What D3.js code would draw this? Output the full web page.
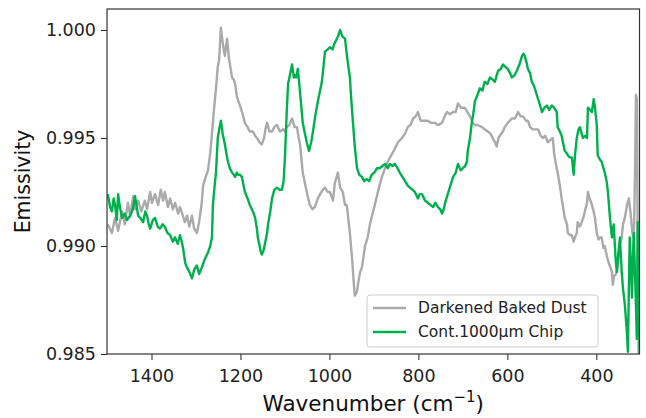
<!DOCTYPE html>
<html>
<head>
<meta charset="utf-8">
<script src="https://cdn.jsdelivr.net/npm/d3@7"></script>
<style>
  body { margin: 0; background: #fff; }
  text { font-family: "DejaVu Sans", sans-serif; }
</style>
</head>
<body>
<div id="chart"></div>
<script>
// series labels
let seriesNames = ['Darkened Baked Dust', 'Cont.1000\u00b5m Chip'];
let seriesColors = ['#aaaaaa', '#00b04f'];

// Darkened Baked Dust: [wavenumber, emissivity]
let dustData = [
  [1498,0.9910],[1489,0.9906],[1482,0.9913],[1475,0.9907],[1466,0.9916],[1460,0.9910],[1453,0.9920],
  [1448,0.9914],[1441,0.9923],[1437,0.9917],[1430,0.9921],[1423,0.9916],[1415,0.9921],[1410,0.9917],
  [1403,0.9925],[1399,0.9920],[1392,0.9924],[1385,0.9919],[1379,0.9926],[1374,0.9921],[1370,0.9925],
  [1363,0.9918],[1358,0.9922],[1352,0.9917],[1347,0.9920],[1340,0.9915],[1336,0.9918],[1331,0.9915],
  [1325,0.9911],[1320,0.9914],[1315,0.9909],[1309,0.9914],[1304,0.9908],[1298,0.9906],[1293,0.9911],
  [1287,0.9920],[1284,0.9928],[1278,0.9932],[1273,0.9935],[1268,0.9943],[1264,0.9952],[1260,0.9962],
  [1255,0.9973],[1251,0.9983],[1248,0.9986],[1244,1.0001],[1241,0.9996],[1237,0.9990],[1235,0.9988],
  [1232,0.9993],[1230,0.9996],[1226,0.9987],[1222,0.9982],[1219,0.9978],[1215,0.9977],[1212,0.9975],
  [1208,0.9969],[1201,0.9965],[1195,0.9961],[1190,0.9957],[1184,0.9955],[1179,0.9953],[1172,0.9953],
  [1167,0.9951],[1163,0.9950],[1157,0.9948],[1152,0.9947],[1147,0.9950],[1143,0.9955],[1140,0.9957],
  [1135,0.9953],[1129,0.9953],[1124,0.9955],[1118,0.9956],[1111,0.9953],[1104,0.9954],[1100,0.9953],
  [1096,0.9955],[1090,0.9956],[1084,0.9959],[1078,0.9955],[1073,0.9955],[1069,0.9950],[1066,0.9947],
  [1060,0.9934],[1051,0.9925],[1044,0.9919],[1038,0.9917],[1033,0.9918],[1026,0.9922],[1021,0.9924],
  [1015,0.9926],[1010,0.9927],[1004,0.9925],[999,0.9925],[992,0.9921],[988,0.9929],[981,0.9934],
  [976,0.9927],[970,0.9925],[965,0.9919],[961,0.9919],[954,0.9906],[949,0.9894],[945,0.9882],
  [943,0.9877],[938,0.9879],[936,0.9882],[931,0.9888],[927,0.9890],[920,0.9900],[914,0.9904],
  [909,0.9910],[903,0.9915],[898,0.9919],[890,0.9926],[882,0.9932],[875,0.9936],[869,0.9939],
  [861,0.9942],[853,0.9945],[846,0.9948],[837,0.9950],[830,0.9952],[824,0.9955],[818,0.9956],
  [812,0.9959],[806,0.9960],[801,0.9962],[795,0.9958],[792,0.9958],[785,0.9958],[779,0.9958],
  [772,0.9957],[763,0.9957],[756,0.9956],[747,0.9957],[741,0.9960],[736,0.9962],[729,0.9961],
  [722,0.9962],[716,0.9962],[711,0.9966],[704,0.9964],[696,0.9964],[690,0.9962],[684,0.9960],
  [678,0.9957],[673,0.9956],[667,0.9956],[657,0.9955],[651,0.9954],[644,0.9953],[638,0.9952],
  [633,0.9950],[628,0.9948],[624,0.9946],[620,0.9950],[617,0.9951],[610,0.9953],[606,0.9955],
  [599,0.9957],[590,0.9959],[583,0.9959],[576,0.9962],[570,0.9960],[565,0.9960],[558,0.9958],
  [554,0.9958],[549,0.9955],[543,0.9954],[538,0.9954],[531,0.9954],[525,0.9951],[520,0.9950],
  [515,0.9951],[509,0.9948],[504,0.9949],[498,0.9950],[495,0.9943],[491,0.9938],[487,0.9934],
  [482,0.9928],[478,0.9922],[474,0.9917],[471,0.9913],[466,0.9910],[464,0.9906],[459,0.9905],
  [455,0.9905],[451,0.9902],[448,0.9904],[444,0.9906],[442,0.9911],[437,0.9909],[433,0.9911],
  [428,0.9914],[426,0.9916],[421,0.9920],[419,0.9925],[415,0.9922],[410,0.9919],[406,0.9916],
  [403,0.9913],[399,0.9906],[395,0.9903],[391,0.9904],[388,0.9904],[384,0.9899],[381,0.9900],
  [376,0.9895],[372,0.9892],[368,0.9890],[365,0.9888],[363,0.9882],[360,0.9886],[356,0.9887],
  [354,0.9888],[350,0.9894],[347,0.9901],[343,0.9904],[340,0.9910],[336,0.9913],[331,0.9919],
  [327,0.9922],[324,0.9917],[322,0.9913],[319,0.9906],[317,0.9904],[315,0.9910],[313,0.9935],
  [311,0.9970],[309,0.9968],[307,0.9900],[305,0.9850]
];

// Cont.1000um Chip: [wavenumber, emissivity]
let chipData = [
  [1498,0.9924],[1493,0.9918],[1489,0.9916],[1485,0.9922],[1482,0.9919],[1478,0.9912],[1475,0.9924],
  [1471,0.9918],[1466,0.9913],[1460,0.9915],[1455,0.9912],[1448,0.9914],[1442,0.9917],[1437,0.9923],
  [1433,0.9918],[1430,0.9914],[1425,0.9913],[1419,0.9911],[1414,0.9916],[1410,0.9914],[1406,0.9910],
  [1403,0.9908],[1397,0.9912],[1392,0.9913],[1386,0.9909],[1381,0.9908],[1375,0.9910],[1370,0.9909],
  [1364,0.9906],[1358,0.9905],[1352,0.9902],[1347,0.9904],[1341,0.9901],[1336,0.9905],[1332,0.9902],
  [1329,0.9899],[1324,0.9892],[1320,0.9890],[1315,0.9888],[1309,0.9885],[1304,0.9889],[1298,0.9891],
  [1293,0.9887],[1287,0.9890],[1280,0.9894],[1273,0.9897],[1268,0.9900],[1264,0.9904],[1262,0.9919],
  [1258,0.9928],[1255,0.9934],[1251,0.9950],[1247,0.9955],[1244,0.9958],[1240,0.9952],[1235,0.9947],
  [1231,0.9942],[1228,0.9939],[1224,0.9936],[1219,0.9934],[1215,0.9933],[1212,0.9932],[1208,0.9934],
  [1206,0.9933],[1201,0.9933],[1197,0.9932],[1193,0.9928],[1190,0.9925],[1184,0.9922],[1179,0.9919],
  [1172,0.9916],[1167,0.9913],[1163,0.9908],[1161,0.9904],[1155,0.9898],[1152,0.9896],[1148,0.9898],
  [1145,0.9901],[1140,0.9906],[1138,0.9910],[1133,0.9916],[1129,0.9922],[1124,0.9926],[1118,0.9927],
  [1112,0.9926],[1107,0.9926],[1103,0.9930],[1100,0.9941],[1096,0.9962],[1093,0.9975],[1088,0.9980],
  [1084,0.9984],[1080,0.9978],[1078,0.9979],[1075,0.9978],[1071,0.9982],[1066,0.9971],[1060,0.9957],
  [1055,0.9952],[1051,0.9948],[1046,0.9944],[1041,0.9948],[1037,0.9953],[1032,0.9960],[1026,0.9967],
  [1021,0.9972],[1017,0.9976],[1013,0.9984],[1010,0.9990],[1004,0.9991],[999,0.9992],[993,0.9991],
  [988,0.9994],[983,0.9996],[979,0.9998],[976,1.0000],[971,0.9997],[965,0.9996],[960,0.9987],
  [954,0.9978],[951,0.9968],[947,0.9957],[943,0.9946],[938,0.9936],[933,0.9933],[927,0.9932],
  [922,0.9930],[916,0.9931],[911,0.9930],[905,0.9933],[899,0.9934],[893,0.9936],[887,0.9936],
  [881,0.9937],[875,0.9938],[869,0.9936],[864,0.9938],[858,0.9937],[853,0.9938],[847,0.9936],
  [842,0.9934],[836,0.9932],[830,0.9930],[824,0.9928],[819,0.9927],[813,0.9926],[808,0.9925],
  [801,0.9922],[797,0.9924],[792,0.9924],[785,0.9921],[779,0.9920],[773,0.9919],[767,0.9918],
  [762,0.9920],[756,0.9918],[751,0.9917],[747,0.9915],[743,0.9917],[740,0.9920],[734,0.9924],
  [728,0.9928],[722,0.9932],[716,0.9934],[711,0.9938],[705,0.9935],[700,0.9936],[695,0.9937],
  [691,0.9939],[689,0.9944],[684,0.9950],[680,0.9957],[676,0.9962],[673,0.9967],[667,0.9970],
  [662,0.9973],[656,0.9972],[651,0.9976],[645,0.9975],[639,0.9978],[633,0.9977],[628,0.9976],
  [624,0.9979],[621,0.9981],[615,0.9982],[610,0.9984],[605,0.9983],[599,0.9982],[594,0.9980],
  [590,0.9978],[584,0.9979],[579,0.9981],[573,0.9984],[567,0.9988],[564,0.9989],[561,0.9988],
  [557,0.9985],[554,0.9982],[549,0.9980],[545,0.9976],[540,0.9974],[534,0.9970],[528,0.9966],
  [522,0.9962],[517,0.9964],[511,0.9965],[506,0.9963],[500,0.9965],[495,0.9964],[489,0.9962],
  [487,0.9955],[482,0.9953],[478,0.9951],[474,0.9947],[471,0.9944],[467,0.9943],[464,0.9942],
  [460,0.9941],[455,0.9941],[451,0.9933],[448,0.9942],[444,0.9950],[440,0.9954],[437,0.9955],
  [433,0.9952],[430,0.9950],[425,0.9951],[421,0.9950],[419,0.9964],[414,0.9963],[410,0.9962],
  [406,0.9968],[403,0.9964],[399,0.9956],[397,0.9942],[392,0.9940],[388,0.9939],[384,0.9936],
  [381,0.9934],[377,0.9930],[374,0.9925],[369,0.9912],[365,0.9904],[361,0.9910],[357,0.9895],
  [354,0.9888],[350,0.9898],[347,0.9904],[343,0.9888],[340,0.9880],[336,0.9873],[332,0.9862],
  [329,0.9851],[327,0.9880],[325,0.9904],[322,0.9890],[320,0.9876],[318,0.9892],[316,0.9906],
  [312,0.9880],[309,0.9857],[307,0.9911],[305,0.9870],[302,0.9849],[300,0.9840]
];

let xTicks = [1400, 1200, 1000, 800, 600, 400];
let yTicks = [0.985, 0.990, 0.995, 1.000];

let margin = {top: 9, right: 6.5, bottom: 64, left: 107};
let width = 646 - margin.left - margin.right;
let height = 418 - margin.top - margin.bottom;

let x = d3.scaleLinear().domain([1500, 303]).range([0, width]);
let y = d3.scaleLinear().domain([0.985, 1.00097]).range([height, 0]);

let svg = d3.select('#chart')
  .append('svg')
  .attr('width', 646)
  .attr('height', 418)
  .append('g')
  .attr('transform', `translate(${margin.left},${margin.top})`);

svg.append('clipPath')
  .attr('id', 'clip')
  .append('rect')
  .attr('width', width)
  .attr('height', height);

let line = d3.line()
  .x(d => x(d[0]))
  .y(d => y(d[1]));

let plot = svg.append('g').attr('clip-path', 'url(#clip)');

[dustData, chipData].forEach((data, i) => {
  plot.append('path')
    .datum(data)
    .attr('fill', 'none')
    .attr('stroke', seriesColors[i])
    .attr('stroke-width', 2.4)
    .attr('stroke-linejoin', 'round')
    .attr('d', line);
});

// axes
let xAxis = svg.append('g')
  .attr('transform', `translate(0,${height})`)
  .call(d3.axisBottom(x).tickValues(xTicks).tickFormat(d3.format('d')).tickSize(6).tickPadding(5));
let yAxis = svg.append('g')
  .call(d3.axisLeft(y).tickValues(yTicks).tickFormat(d3.format('.3f')).tickSize(6).tickPadding(5));

[xAxis, yAxis].forEach(a => {
  a.select('.domain').remove();
  a.selectAll('line').attr('stroke', '#222');
  a.selectAll('text').attr('font-size', 17.5).attr('fill', '#222')
    .style('font-family', '"DejaVu Sans", sans-serif');
});
xAxis.selectAll('text').attr('dy', '0.95em');

// frame
svg.append('rect')
  .attr('width', width)
  .attr('height', height)
  .attr('fill', 'none')
  .attr('stroke', '#333')
  .attr('stroke-width', 1.2);

// axis labels
let xLabel = svg.append('text')
  .attr('x', width / 2)
  .attr('y', height + 57)
  .attr('text-anchor', 'middle')
  .attr('font-size', 21.5)
  .attr('fill', '#111');
xLabel.append('tspan').text('Wavenumber (cm');
xLabel.append('tspan').text('\u22121').attr('font-size', 15).attr('dy', -9);
xLabel.append('tspan').text(')').attr('dy', 9);

svg.append('text')
  .attr('transform', `translate(${-77},${height / 2}) rotate(-90)`)
  .attr('text-anchor', 'middle')
  .attr('font-size', 20.5)
  .attr('fill', '#111')
  .text('Emissivity');

// legend
let legend = svg.append('g')
  .attr('transform', `translate(${367 - margin.left},${295 - margin.top})`);
legend.append('rect')
  .attr('width', 231)
  .attr('height', 52)
  .attr('rx', 3)
  .attr('fill', 'rgba(255,255,255,0.8)')
  .attr('stroke', '#cccccc');
seriesNames.forEach((name, i) => {
  let row = legend.append('g').attr('transform', `translate(0,${13 + i * 24})`);
  row.append('line')
    .attr('x1', 6).attr('x2', 39)
    .attr('stroke', seriesColors[i])
    .attr('stroke-width', 2.4);
  row.append('text')
    .attr('x', 51)
    .attr('dy', '0.35em')
    .attr('font-size', 15.5)
    .attr('fill', '#222')
    .text(name);
});
</script>
</body>
</html>
